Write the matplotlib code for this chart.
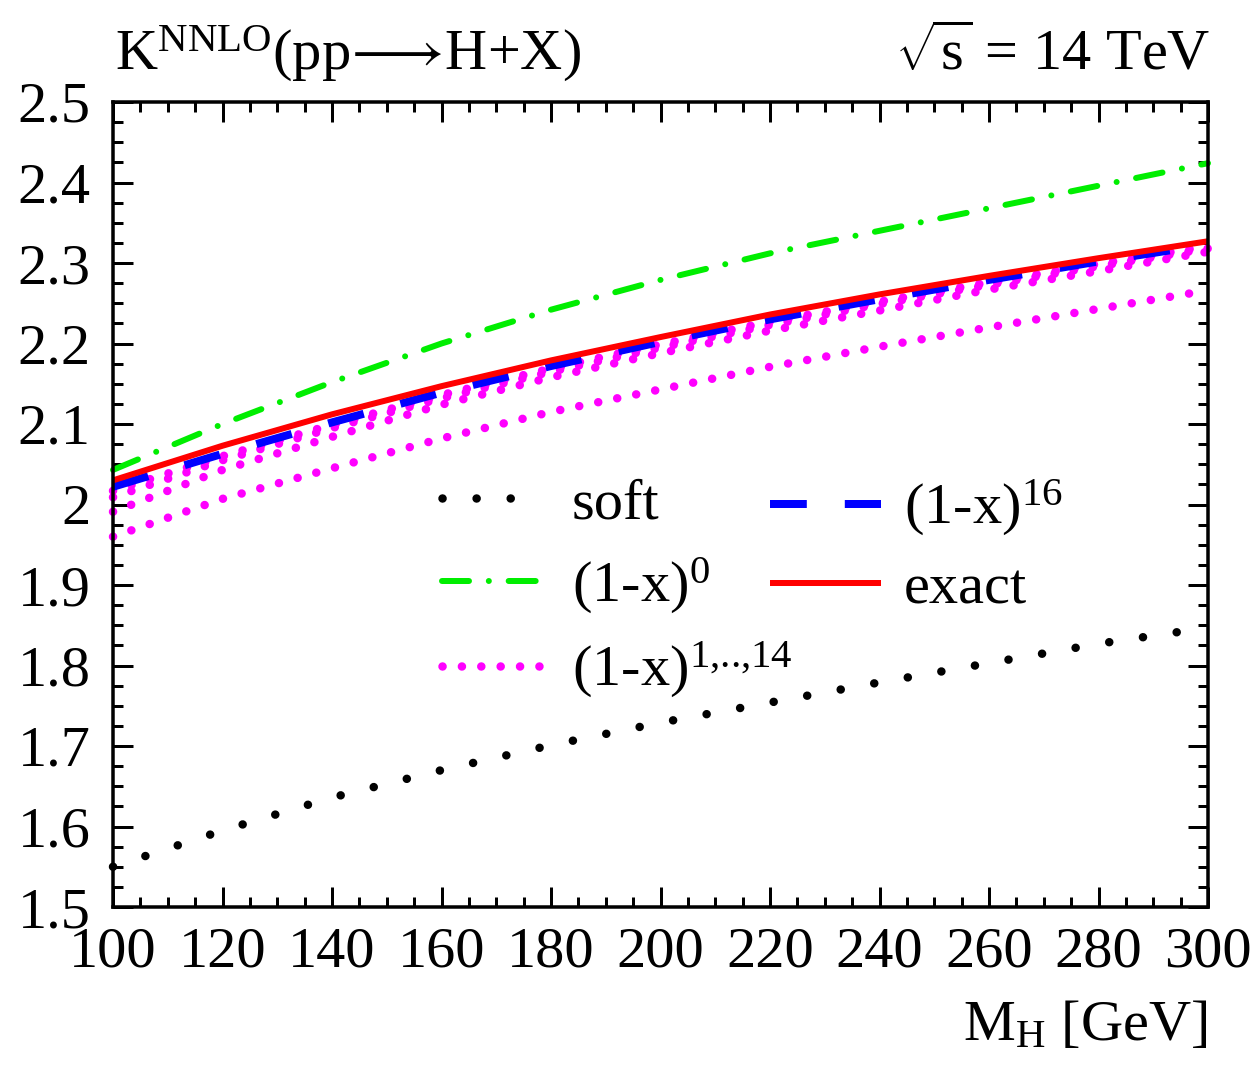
import matplotlib
matplotlib.use("Agg")
import matplotlib.pyplot as plt
from matplotlib.ticker import MultipleLocator, FormatStrFormatter

plt.rcParams['font.family'] = ['Liberation Serif', 'DejaVu Serif']
plt.rcParams['mathtext.fontset'] = 'custom'
plt.rcParams['mathtext.rm'] = 'Liberation Serif'
plt.rcParams['mathtext.it'] = 'Liberation Serif:italic'
plt.rcParams['mathtext.bf'] = 'Liberation Serif:bold'
plt.rcParams['mathtext.default'] = 'regular'

# Higgs mass grid [GeV]
mh = [100, 120, 140, 160, 180, 200, 220, 240, 260, 280, 300]

# NNLO K-factors for gg -> H at the LHC (14 TeV)
k_soft = [1.550, 1.595, 1.636, 1.670, 1.701, 1.729, 1.754, 1.779, 1.803, 1.827, 1.847]
k_x0 = [2.043, 2.100, 2.152, 2.200, 2.242, 2.279, 2.312, 2.340, 2.368, 2.396, 2.424]
k_x1_14 = [
    [1.960, 2.007, 2.045, 2.082, 2.115, 2.143, 2.171, 2.196, 2.220, 2.243, 2.266],
    [1.991, 2.043, 2.084, 2.124, 2.158, 2.188, 2.216, 2.241, 2.267, 2.290, 2.314],
    [2.009, 2.055, 2.095, 2.132, 2.165, 2.195, 2.223, 2.249, 2.273, 2.296, 2.318],
    [2.017, 2.060, 2.099, 2.136, 2.169, 2.199, 2.227, 2.252, 2.276, 2.299, 2.321],
]
k_x16 = [2.022, 2.063, 2.102, 2.139, 2.172, 2.202, 2.230, 2.255, 2.279, 2.302, 2.323]
k_exact = [2.030, 2.073, 2.112, 2.147, 2.179, 2.208, 2.236, 2.261, 2.284, 2.306, 2.327]

W, H = 1258, 1067
PX = 0.72  # points per pixel at 100 dpi
FS = 42

fig = plt.figure(figsize=(W / 100, H / 100), dpi=100)
ax = fig.add_axes([113 / W, 160 / H, 1095 / W, 805 / H])

soft, = ax.plot(mh, k_soft, color='black', lw=8.5 * PX, linestyle=(0, (0.01, 4.0)),
                dash_capstyle='round', clip_on=False)
x0, = ax.plot(mh, k_x0, color='#00ee00', lw=6 * PX,
              linestyle=(0, (4.5, 3.3, 0.01, 3.3)), dash_capstyle='round', clip_on=False)
mag = None
for series in k_x1_14:
    mag, = ax.plot(mh, series, color='#ff00ff', lw=8.5 * PX, linestyle=(0, (0.01, 2.27)),
                   dash_capstyle='round', clip_on=False)
x16, = ax.plot(mh, k_x16, color='#0000ff', lw=8 * PX, linestyle=(0, (4.6, 4.75)),
               dash_capstyle='butt', clip_on=False)
exact, = ax.plot(mh, k_exact, color='#ff0000', lw=6 * PX, solid_capstyle='butt', clip_on=False)

ax.set_xlim(100, 300)
ax.set_ylim(1.5, 2.5)
ax.xaxis.set_major_locator(MultipleLocator(20))
ax.xaxis.set_minor_locator(MultipleLocator(5))
ax.yaxis.set_major_locator(MultipleLocator(0.1))
ax.yaxis.set_minor_locator(MultipleLocator(0.025))
ax.yaxis.set_major_formatter(FormatStrFormatter('%g'))
ax.tick_params(which='both', direction='in', top=True, right=True, width=3 * PX,
               labelsize=FS)
ax.tick_params(which='major', length=20 * PX)
ax.tick_params(which='minor', length=10 * PX)
ax.tick_params(axis='x', pad=14)
ax.tick_params(axis='y', pad=16)
for sp in ax.spines.values():
    sp.set_linewidth(3.5 * PX)

anchor_y = (907 - 478) / 805
leg1 = ax.legend([soft, x0, mag], ['soft', '(1-x)$^{0}$', r'(1-x)$^{\text{1,..,14}}$'],
                 loc='upper left', bbox_to_anchor=((442 - 113) / 1095, anchor_y),
                 frameon=False, fontsize=FS, handlelength=1.75, handletextpad=0.48,
                 borderpad=0, borderaxespad=0, labelspacing=0.42)
ax.add_artist(leg1)
ax.legend([x16, exact], ['(1-x)$^{16}$', 'exact'],
          loc='upper left', bbox_to_anchor=((770 - 113) / 1095, anchor_y),
          frameon=False, fontsize=FS, handlelength=1.9, handletextpad=0.4,
          borderpad=0, borderaxespad=0, labelspacing=0.42)

fig.text(115 / W, (H - 70) / H, r'K$^{NNLO}$(pp$\!\longrightarrow\!$H+X)', fontsize=FS,
         ha='left', va='baseline')
fig.text(1210 / W, (H - 70) / H, r'$\sqrt{s}$ = 14 TeV', fontsize=FS, ha='right', va='baseline')
fig.text(1207 / W, (H - 1040) / H, r'M$_{\text{H}}$ [GeV]', fontsize=FS, ha='right',
         va='baseline')

fig.savefig('out.png', dpi=100)
